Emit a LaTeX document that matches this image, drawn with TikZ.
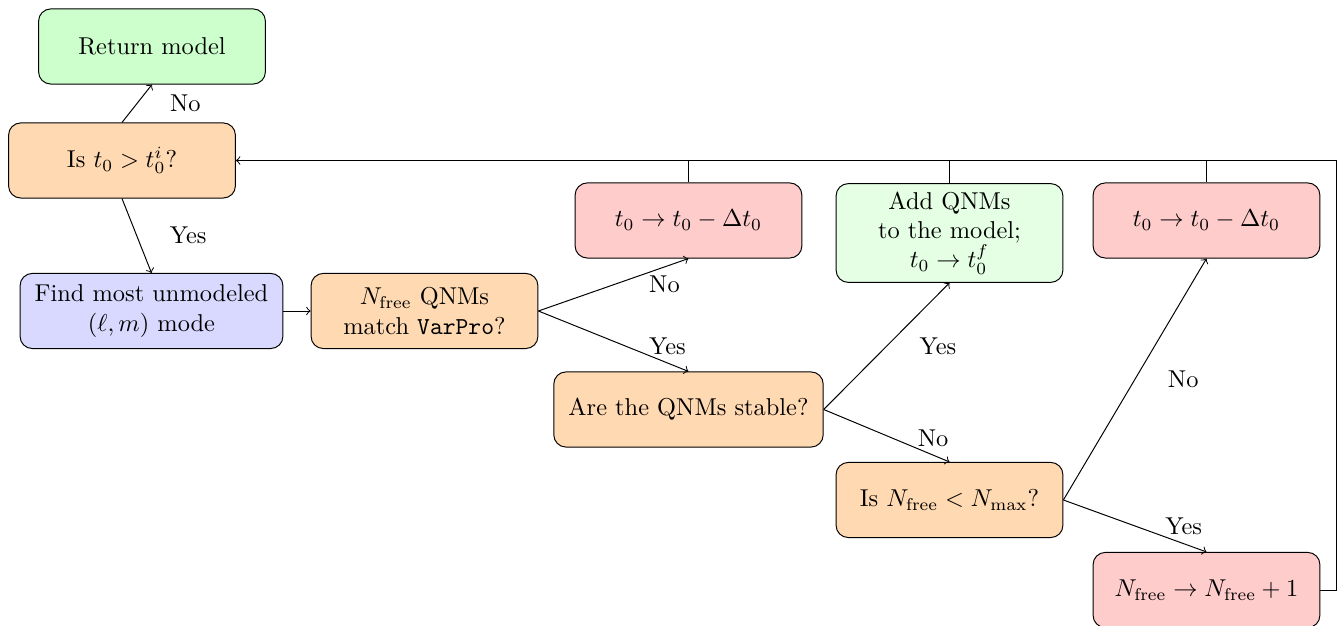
\documentclass[tikz,border=0pt]{standalone}
\usepackage{amsmath, amssymb}
\tikzset{every picture/.style={line width=0.4pt}}
\tikzset{
  flowbox/.style={draw, rounded corners=5pt, align=center, inner xsep=6pt, minimum width=93pt, minimum height=30.8pt},
  testbox/.style={flowbox, fill=orange!30},
  findbox/.style={flowbox, fill=blue!15},
  shiftbox/.style={flowbox, fill=red!20},
  donebox/.style={flowbox, fill=green!20},
  addbox/.style={flowbox, fill=green!10}
}

\begin{document}
\begin{tikzpicture}[x=0.41pt,y=0.41pt,yscale=-1,xscale=1]
\useasboundingbox (0,0) rectangle (1338,626);

% Nodes
\node[donebox] (ret) at (152,46.5) {Return model};
\node[testbox] (tcheck) at (122,160.5) {Is $t_0 > t_0^i$?};
\node[findbox] (find) at (151.5,311) {Find most unmodeled\\$(\ell, m)$ mode};
\node[testbox] (match) at (424.5,311) {$N_\mathrm{free}$ QNMs\\match \texttt{VarPro}?};
\node[shiftbox] (shiftA) at (688.5,220.5) {$t_0 \to t_0 - \Delta t_0$};
\node[addbox] (add) at (949.5,233) {Add QNMs\\to the model;\\$t_0 \to t_0^f$};
\node[testbox] (stable) at (688.5,409.5) {Are the QNMs stable?};
\node[testbox] (nmax) at (949.5,500) {Is $N_\mathrm{free} < N_\mathrm{max}$?};
\node[shiftbox] (shiftB) at (1206.5,220.5) {$t_0 \to t_0 - \Delta t_0$};
\node[shiftbox] (grow) at (1206.5,590) {$N_\mathrm{free} \to N_\mathrm{free} + 1$};

% Arrows
\draw[->] (tcheck.north) -- node[midway, right=10pt] {No} (ret.south);
\draw[->] (tcheck.south) -- node[midway, right=10pt] {Yes} (find.north);
\draw[->] (find.east) -- (match.west);
\draw[->] (match.east) -- node[pos=0.84, below] {No} (shiftA.south);
\draw[->] (match.east) -- node[pos=0.86, above] {Yes} (stable.north);
\draw[->] (stable.east) -- node[midway, right=10pt] {Yes} (add.south);
\draw[->] (stable.east) -- node[pos=0.87, above] {No} (nmax.north);
\draw[->] (nmax.east) -- node[midway, right=10pt] {No} (shiftB.south);
\draw[->] (nmax.east) -- node[pos=0.84, above] {Yes} (grow.north);

% Loop back
\draw[->] (grow.east) -- ++(16,0) |- (tcheck.east);
\draw (shiftA.north) -- (shiftA.north |- tcheck.east);
\draw (add.north) -- (add.north |- tcheck.east);
\draw (shiftB.north) -- (shiftB.north |- tcheck.east);

\end{tikzpicture}
\end{document}
